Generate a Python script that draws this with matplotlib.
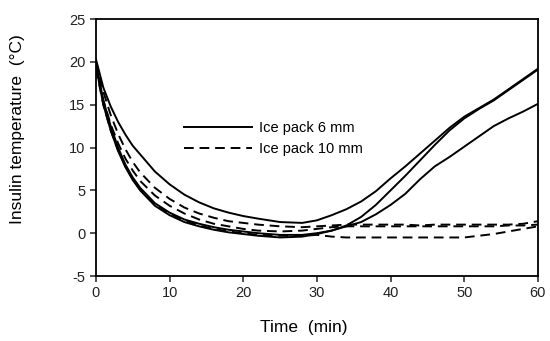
import matplotlib
matplotlib.use("Agg")
import matplotlib.pyplot as plt

plt.rcParams['font.family'] = ['Liberation Sans', 'DejaVu Sans']
plt.rcParams['axes.unicode_minus'] = False

# time points (min)
time = [0, 1, 2, 3, 4, 5, 6, 8, 10, 12, 14, 16, 18, 20, 22, 25, 28, 30,
        32, 34, 36, 38, 40, 42, 44, 46, 48, 50, 52, 54, 56, 58, 60]

# ice pack 6 mm (three runs)
pack6_a = [20.3, 17.0, 14.8, 13.0, 11.5, 10.2, 9.2, 7.2, 5.7, 4.5, 3.6, 2.9, 2.4, 2.0, 1.7, 1.3, 1.2, 1.5,
           2.1, 2.8, 3.7, 4.9, 6.4, 7.8, 9.3, 10.8, 12.3, 13.6, 14.6, 15.6, 16.8, 18.0, 19.2]
pack6_b = [19.8, 15.5, 12.5, 10.0, 8.0, 6.5, 5.3, 3.5, 2.4, 1.6, 1.1, 0.7, 0.4, 0.2, 0.0, -0.2, -0.2, 0.0,
           0.3, 0.9, 1.9, 3.3, 5.0, 6.7, 8.5, 10.3, 12.0, 13.4, 14.5, 15.5, 16.7, 17.9, 19.1]
pack6_c = [19.5, 15.0, 12.0, 9.6, 7.7, 6.2, 5.0, 3.2, 2.1, 1.3, 0.8, 0.4, 0.1, -0.1, -0.3, -0.5, -0.4, -0.1,
           0.3, 0.8, 1.3, 2.2, 3.3, 4.6, 6.3, 7.8, 8.9, 10.1, 11.3, 12.5, 13.4, 14.2, 15.1]

# ice pack 10 mm (three runs)
pack10_a = [20.0, 16.5, 13.8, 11.6, 9.8, 8.3, 7.1, 5.3, 4.0, 3.0, 2.3, 1.8, 1.4, 1.2, 1.0, 0.8, 0.7, 0.8,
            0.9, 1.0, 1.0, 1.0, 1.0, 1.0, 0.9, 1.0, 1.0, 1.0, 1.0, 1.0, 1.0, 1.1, 1.4]
pack10_b = [19.5, 15.5, 12.7, 10.5, 8.7, 7.3, 6.1, 4.4, 3.2, 2.3, 1.6, 1.1, 0.8, 0.5, 0.3, 0.2, 0.3, 0.5,
            0.7, 0.8, 0.8, 0.8, 0.8, 0.8, 0.8, 0.8, 0.8, 0.8, 0.8, 0.8, 0.9, 0.9, 1.0]
pack10_c = [19.2, 15.0, 12.0, 9.7, 7.8, 6.3, 5.1, 3.4, 2.3, 1.5, 0.9, 0.5, 0.2, 0.0, -0.2, -0.3, -0.3, -0.2,
            -0.4, -0.5, -0.5, -0.5, -0.5, -0.5, -0.5, -0.5, -0.5, -0.5, -0.3, -0.1, 0.2, 0.5, 0.8]

xticks = [0, 10, 20, 30, 40, 50, 60]
yticks = [-5, 0, 5, 10, 15, 20, 25]

fig = plt.figure(figsize=(5.5, 3.41), dpi=100)
ax = fig.add_axes([0.1745, 0.1906, 0.8035, 0.7535])

dash = (0, (5, 3))
lw = 1.4
ax.plot(time, pack6_a, color='black', lw=lw, label='Ice pack 6 mm')
ax.plot(time, pack6_b, color='black', lw=lw)
ax.plot(time, pack6_c, color='black', lw=lw)
ax.plot(time, pack10_a, color='black', lw=lw, linestyle=dash, label='Ice pack 10 mm')
ax.plot(time, pack10_b, color='black', lw=lw, linestyle=dash)
ax.plot(time, pack10_c, color='black', lw=lw, linestyle=dash)

ax.set_xlim(0, 60)
ax.set_ylim(-5, 25)
ax.set_xticks(xticks)
ax.set_yticks(yticks)
ax.tick_params(direction='out', length=4, width=1.1, labelsize=10.5, colors='#222222')
for s in ax.spines.values():
    s.set_linewidth(1.3)

ax.set_xlabel('Time  (min)', fontsize=12.5)
ax.set_ylabel('Insulin temperature  (°C)', fontsize=12.5)
ax.xaxis.set_label_coords(0.47, -0.17)
ax.yaxis.set_label_coords(-0.16, 0.57)

ax.legend(loc='upper left', bbox_to_anchor=(0.185, 0.625), frameon=False,
          fontsize=10.5, handlelength=4.7, handletextpad=0.5, labelspacing=0.45,
          borderaxespad=0)

fig.savefig('out.png', dpi=100)
